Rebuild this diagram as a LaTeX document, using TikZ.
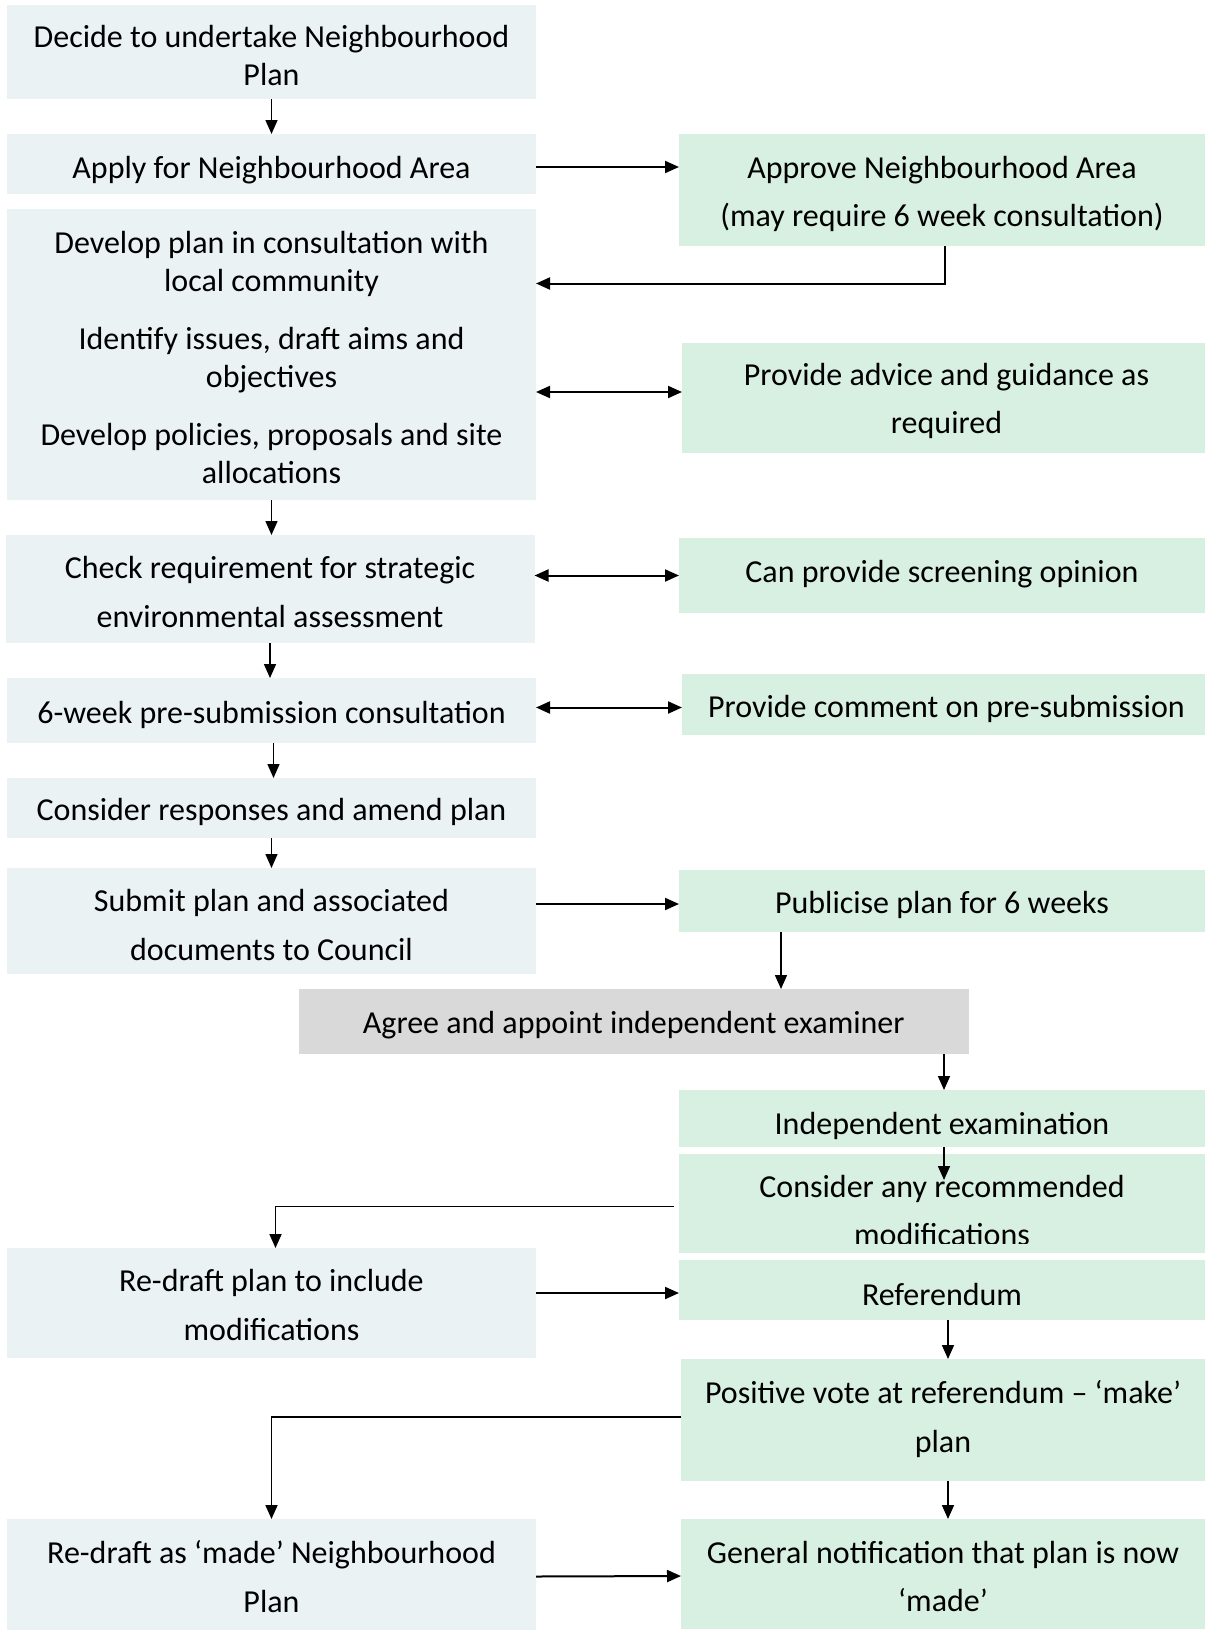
\documentclass[tikz,border=0pt]{standalone}
\usepackage{fontspec}
\setmainfont{Carlito}
\usetikzlibrary{arrows.meta}
\definecolor{lbox}{RGB}{234,242,244}
\definecolor{gbox}{RGB}{216,240,226}
\definecolor{graybox}{RGB}{217,217,217}
\begin{document}
\begin{tikzpicture}[x=1pt,y=-1pt,
 base/.style={inner sep=0pt, outer sep=0pt},
 lft/.style={base, fill=lbox, minimum width=529pt},
 rgt/.style={base, fill=gbox, minimum width=526pt},
 tx/.style={inner sep=0pt, outer sep=0pt, align=center, font=\fontsize{32}{38.5}\selectfont, text=black},
 wide/.style={tx, font=\fontsize{32}{48.5}\selectfont},
 arr/.style={-{Triangle[length=14pt,width=12pt]}, line width=1.5pt},
 harr/.style={-{Triangle[length=14pt,width=12pt]}, line width=2pt},
 darr/.style={{Triangle[length=14pt,width=12pt]}-{Triangle[length=14pt,width=12pt]}, line width=2pt}]
\useasboundingbox[fill=white] (0,0) rectangle (1205,1630);
% left column
\node[lft, minimum height=94pt] (n1) at (271.5,52) {};
\node[tx] (n1t) at ([yshift=-3.5pt]n1.center) {Decide to undertake Neighbourhood\\Plan};
\node[lft, minimum height=60pt] (n2) at (271.5,164) {};
\node[tx] (n2t) at ([yshift=-6pt]n2.center) {Apply for Neighbourhood Area};
\node[lft, minimum height=291pt] (n3) at (271.5,354.5) {};
\node[tx] (n3t) at ([yshift=-3pt]n3.center) {Develop plan in consultation with\\local community\\[19pt]Identify issues, draft aims and\\objectives\\[19pt]Develop policies, proposals and site\\allocations};
\node[lft, minimum height=108pt] (n4) at (270,589) {};
\node[wide] (n4t) at ([yshift=-3pt]n4.center) {Check requirement for strategic\\environmental assessment};
\node[lft, minimum height=65pt] (n5) at (271.5,710.5) {};
\node[tx] (n5t) at ([yshift=-4pt]n5.center) {6-week pre-submission consultation};
\node[lft, minimum height=60pt] (n6) at (271.5,808) {};
\node[tx] (n6t) at ([yshift=-4pt]n6.center) {Consider responses and amend plan};
\node[lft, minimum height=106pt] (n7) at (271.5,921) {};
\node[wide] (n7t) at ([yshift=-4pt]n7.center) {Submit plan and associated\\documents to Council};
\node[lft, minimum height=110pt] (n8) at (271.5,1303) {};
\node[wide] (n8t) at ([yshift=-2pt]n8.center) {Re-draft plan to include\\modifications};
\node[lft, minimum height=111pt] (n9) at (271.5,1574.5) {};
\node[wide] (n9t) at ([yshift=-2pt]n9.center) {Re-draft as ‘made’ Neighbourhood\\Plan};
% right column
\node[rgt, minimum height=112pt] (A) at (942,190) {};
\node[wide] (At) at ([yshift=-4pt]A.center) {Approve Neighbourhood Area\\(may require 6 week consultation)};
\node[rgt, minimum width=523pt, minimum height=110pt] (B) at (943.5,398) {};
\node[wide] (Bt) at ([xshift=3pt,yshift=-3pt]B.center) {Provide advice and guidance as\\required};
\node[rgt, minimum height=75pt] (C) at (942,575.5) {};
\node[tx] (Ct) at ([yshift=1pt]C.center) {Can provide screening opinion};
\node[rgt, minimum width=523pt, minimum height=61pt] (D) at (943.5,704.5) {};
\node[tx] (Dt) at ([xshift=3pt,yshift=-4pt]D.center) {Provide comment on pre-submission};
\node[rgt, minimum height=62pt] (E) at (942,901) {};
\node[tx] (Et) at ([yshift=-4pt]E.center) {Publicise plan for 6 weeks};
\node[base, fill=graybox, minimum width=669.5pt, minimum height=65pt] (F) at (633.75,1021.5) {};
\node[tx] (Ft) at ([yshift=-4pt]F.center) {Agree and appoint independent examiner};
\node[rgt, minimum height=57pt] (G) at (942,1118.5) {};
\node[tx] (Gt) at ([yshift=-7pt]G.center) {Independent examination};
\node[rgt, minimum height=99pt] (H) at (942,1203.5) {};
\begin{scope}
\clip (679,1154) rectangle (1205,1243);
\node[wide] (Ht) at (942,1210.5) {Consider any recommended\\modifications};
\end{scope}
\node[rgt, minimum height=60pt] (I) at (942,1290) {};
\node[tx] (It) at ([yshift=-4pt]I.center) {Referendum};
\node[rgt, minimum width=524pt, minimum height=122pt] (J) at (943,1420) {};
\node[wide] (Jt) at ([yshift=1pt]J.center) {Positive vote at referendum – ‘make’\\plan};
\node[rgt, minimum width=524pt, minimum height=110pt] (K) at (943,1574) {};
\node[wide] (Kt) at ([yshift=-2.5pt]K.center) {General notification that plan is now\\‘made’};
% connectors
\draw[arr] (n1.south) -- (n2.north);
\draw[harr] ([yshift=-3pt]n2.east) -- ([yshift=-3pt]n2.east -| A.west);
\draw[harr] ([xshift=3pt]A.south) |- ([yshift=71pt]n3.east);
\draw[darr] ([yshift=6pt]n3.east |- B.west) -- ([yshift=6pt]B.west);
\draw[arr] (n3.south) -- (n3.south |- n4.north);
\draw[darr] (n4.east |- C.west) -- (C.west);
\draw[arr] (n4.south) -- (n4.south |- n5.north);
\draw[darr] ([yshift=-3pt]n5.east |- D.west) -- ([yshift=-3pt]D.west);
\draw[arr] ([xshift=2pt]n5.south) -- ([xshift=2pt]n6.north);
\draw[arr] (n6.south) -- (n7.north);
\draw[harr] ([yshift=-3pt]n7.east |- E.west) -- ([yshift=-3pt]E.west);
\draw[arr] ([xshift=-161pt]E.south) -- ([xshift=-161pt]E.south |- F.north);
\draw[arr] ([xshift=2pt]F.south -| G.north) -- ([xshift=2pt]G.north);
\draw[arr] ([xshift=2pt]G.south) -- ([xshift=2pt,yshift=-26pt]H.north);
\draw[arr, line width=1.8pt] ([xshift=-5pt,yshift=-3pt]H.west) -| ([xshift=4pt]n8.north);
\draw[harr] ([yshift=-3pt]n8.east |- I.west) -- ([yshift=-3pt]I.west);
\draw[arr] ([xshift=6pt]I.south) -- ([xshift=6pt]I.south |- J.north);
\draw[arr, line width=1.8pt] ([yshift=3pt]J.west) -| (n9.north);
\draw[arr] ([xshift=5pt]J.south) -- ([xshift=5pt]K.north);
\draw[harr] ([yshift=-2pt]n9.east) -- ([yshift=-2pt]K.west);
\end{tikzpicture}
\end{document}
